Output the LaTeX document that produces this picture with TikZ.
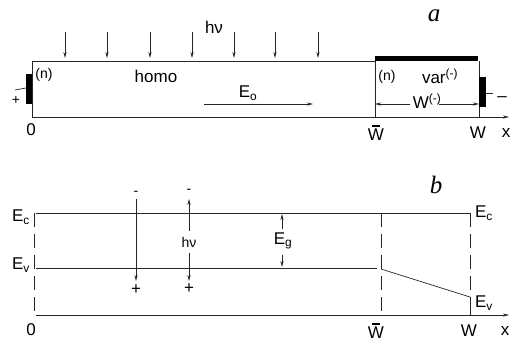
\documentclass[tikz,border=0pt]{standalone}
\usepackage{fontspec}
\setmainfont{Liberation Sans}
\newfontfamily\panelfont{Liberation Serif}
\usetikzlibrary{arrows.meta,positioning}

\tikzset{
  thinline/.style={line width=0.7pt, black!85},
  tipped/.style={-{Stealth[length=6pt,width=3.2pt]}},
  lbl/.style={font=\fontsize{17}{17}\selectfont, inner sep=0pt},
  smalllbl/.style={font=\fontsize{14}{14}\selectfont, inner sep=0pt},
  panellbl/.style={font=\fontsize{25}{25}\selectfont\panelfont\itshape, inner sep=0pt},
  electrode/.style={fill=black, draw=none},
  gapline/.style={thinline, dash pattern=on 14pt off 7pt},
}
\newcommand{\Wbar}{\makebox[0pt][l]{\hspace{0.22em}\raisebox{0.82em}{\rule{0.5em}{0.07em}}}W}

\begin{document}
\begin{tikzpicture}[x=1pt,y=-1pt]
    \useasboundingbox (0,0) rectangle (513,346);

    % a: the sample
    \draw[thinline] (32,117) -- (32,61) -- (375,61);
    \draw[thinline] (375,61) -- (375,117);
    \draw[thinline] (479,61) -- (479,117);
    \draw[thinline, tipped] (32,117) -- (509,117);
    \fill (375,56) rectangle (478,61);
    \fill[electrode] (26,74) rectangle (32,104);
    \fill[electrode] (479,77) rectangle (486,107);
    \draw[thinline] (15,90) -- (26,88);
    \draw[thinline] (486,93) -- (493,93);

    % light falling on the sample
    \foreach \xa in {65,107,150,192,234,275,318}
      \draw[thinline, tipped] (\xa,32) -- (\xa,58);
    \node[lbl] (hva) at (214,27) {hν};
    \node[panellbl] (pa) at (434,16) {a};

    \node[smalllbl] (n1) at (44,75) {(n)};
    \node[lbl] (homo) at (156,76) {homo};
    \node[smalllbl] (n2) at (387,77) {(n)};
    \node[lbl] (var) at (440,76) {var\textsuperscript{(-)}};
    \node[smalllbl] (plus) at (16,100) {+};
    \node[lbl] (minus) at (502,99) {–};

    % field
    \node[lbl] (eo) at (248,93) {E\textsubscript{o}};
    \coordinate (eo-s) at (204,104);
    \coordinate (eo-e) at (313,104);
    \draw[thinline, tipped] (eo-s) -- (eo-e);

    % width of the varizone
    \node[lbl] (wm) at (427,101) {W\textsuperscript{(-)}};
    \coordinate (wm-l) at (375,104);
    \coordinate (wm-r) at (479,104);
    \draw[thinline, tipped] (wm.west |- wm-l) ++(-3,0) -- (wm-l);
    \draw[thinline, tipped] (wm.east |- wm-r) ++(-2,0) -- (wm-r);

    \node[lbl] (za) at (31,130) {0};
    \node[lbl] (wba) at (376,133) {\Wbar};
    \node[lbl] (wa) at (478,133) {W};
    \node[lbl] (xa) at (506,133) {x};

    % b: the bands
    \node[panellbl] (pb) at (436,185) {b};
    \draw[thinline] (36,213) -- (470,213);
    \draw[thinline] (36,268) -- (377,268);
    \draw[thinline] (381,269) -- (470,297);
    \draw[thinline] (470,297) -- (470,315);
    \draw[thinline, tipped] (36,315) -- (509,315);
    \draw[gapline] (34,213) -- (34,315);
    \draw[gapline] (381,213) -- (381,315);
    \draw[gapline] (470,213) -- (470,297);

    \node[lbl] (ecl) at (21,217) {E\textsubscript{c}};
    \node[lbl] (evl) at (21,265) {E\textsubscript{v}};
    \node[lbl] (ecr) at (484,213) {E\textsubscript{c}};
    \node[lbl] (evr) at (484,303) {E\textsubscript{v}};

    % recombination and generation
    \node[smalllbl] (m1) at (136,193) {-};
    \node[lbl] (p1) at (136,290) {+};
    \draw[thinline, tipped] (m1.south) ++(0,4) -- (136,281);
    \node[smalllbl] (m2) at (189,191) {-};
    \node[smalllbl] (hvb) at (189,242) {hν};
    \node[lbl] (p2) at (189,289) {+};
    \draw[thinline, tipped] (hvb.north) ++(0,-6) -- (189,199);
    \draw[thinline, tipped] (hvb.south) ++(0,6) -- (189,281);

    % gap
    \node[lbl] (eg) at (283,241) {E\textsubscript{g}};
    \draw[thinline, tipped] (282,229) -- (282,214);
    \draw[thinline, tipped] (282,255) -- (282,267);

    \node[lbl] (zb) at (31,330) {0};
    \node[lbl] (wbb) at (376,331) {\Wbar};
    \node[lbl] (wb) at (469,331) {W};
    \node[lbl] (xb) at (505,331) {x};
\end{tikzpicture}
\end{document}
